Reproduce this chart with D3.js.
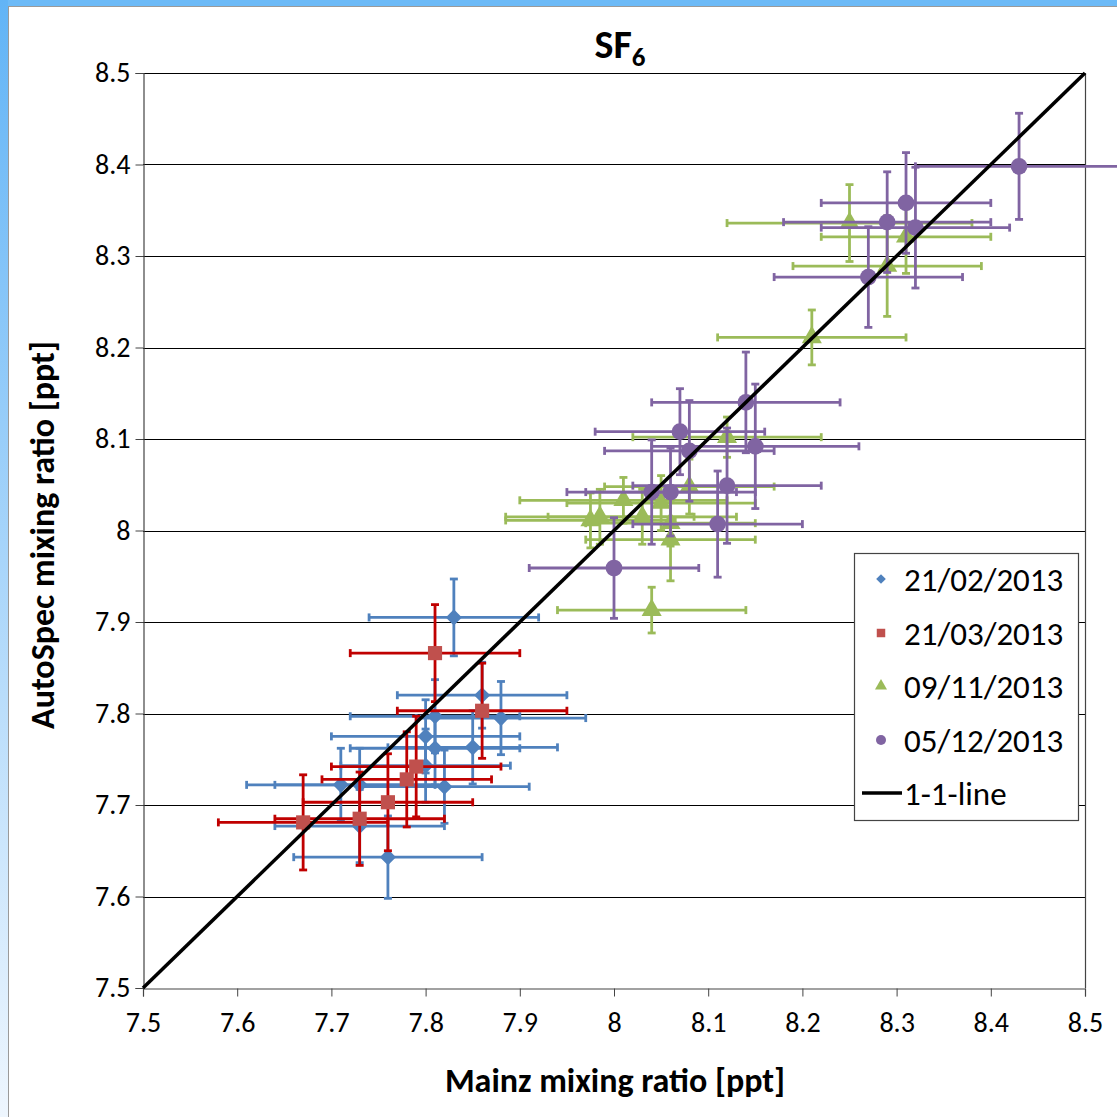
<!DOCTYPE html>
<html>
<head>
<meta charset="utf-8">
<script src="https://cdn.jsdelivr.net/npm/d3@7"></script>
<style>
  body { margin: 0; background: #fff; }
  svg text { font-family: Carlito, Calibri, Lato, "Open Sans", sans-serif; fill: #000; }
</style>
</head>
<body>
<svg id="chart" width="1117" height="1117"></svg>
<script>
// --- data (Mainz vs AutoSpec, ppt) ---
var feb21X    = [7.83, 7.86, 7.88, 7.81, 7.80, 7.81, 7.85, 7.80, 7.71, 7.73, 7.82, 7.73, 7.76];
var feb21Y    = [7.905, 7.82, 7.795, 7.797, 7.775, 7.762, 7.763, 7.743, 7.722, 7.722, 7.72, 7.677, 7.643];
var feb21XErr = [0.09, 0.09, 0.09, 0.09, 0.10, 0.09, 0.09, 0.09, 0.10, 0.09, 0.09, 0.09, 0.10];
var feb21YErr = [0.042, 0.036, 0.04, 0.04, 0.04, 0.04, 0.04, 0.04, 0.04, 0.04, 0.04, 0.04, 0.045];

var mar21X    = [7.81, 7.86, 7.79, 7.78, 7.76, 7.73, 7.67];
var mar21Y    = [7.866, 7.803, 7.742, 7.728, 7.703, 7.685, 7.681];
var mar21XErr = [0.09, 0.09, 0.09, 0.09, 0.09, 0.09, 0.09];
var mar21YErr = [0.053, 0.052, 0.055, 0.052, 0.053, 0.051, 0.052];

var nov09X    = [8.25, 8.31, 8.29, 8.21, 8.12, 8.08, 8.01, 8.05, 7.975, 7.985, 8.03, 8.06, 8.06, 8.04];
var nov09Y    = [8.336, 8.321, 8.289, 8.211, 8.102, 8.048, 8.033, 8.030, 8.011, 8.015, 8.015, 8.008, 7.99, 7.913];
var nov09XErr = [0.13, 0.09, 0.10, 0.10, 0.10, 0.09, 0.11, 0.10, 0.09, 0.10, 0.10, 0.09, 0.09, 0.10];
var nov09YErr = [0.042, 0.04, 0.055, 0.03, 0.022, 0.03, 0.025, 0.03, 0.03, 0.03, 0.03, 0.025, 0.045, 0.025];

var dec05X    = [8.43, 8.31, 8.29, 8.32, 8.27, 8.14, 8.07, 8.08, 8.15, 8.04, 8.06, 8.12, 8.11, 8.00];
var dec05Y    = [8.398, 8.358, 8.337, 8.331, 8.277, 8.140, 8.108, 8.087, 8.092, 8.042, 8.042, 8.049, 8.007, 7.959];
var dec05XErr = [0.11, 0.09, 0.11, 0.10, 0.10, 0.10, 0.09, 0.09, 0.11, 0.09, 0.09, 0.10, 0.09, 0.09];
var dec05YErr = [0.058, 0.055, 0.055, 0.066, 0.055, 0.055, 0.047, 0.055, 0.068, 0.057, 0.048, 0.063, 0.058, 0.055];

var seriesNames = ["21/02/2013", "21/03/2013", "09/11/2013", "05/12/2013"];
var oneToOne = [[7.5, 7.5], [8.5, 8.5]];
var axisTicks = [7.5, 7.6, 7.7, 7.8, 7.9, 8.0, 8.1, 8.2, 8.3, 8.4, 8.5];

function zipSeries(xs, ys, xe, ye) {
  return xs.map(function(v, i) { return {x: v, y: ys[i], xe: xe[i], ye: ye[i]}; });
}

var series = [
  {name: seriesNames[0], pts: zipSeries(feb21X, feb21Y, feb21XErr, feb21YErr), fill: "#4F81BD", bar: "#4F81BD", shape: "diamond"},
  {name: seriesNames[1], pts: zipSeries(mar21X, mar21Y, mar21XErr, mar21YErr), fill: "#C0504D", bar: "#C00000", shape: "square"},
  {name: seriesNames[2], pts: zipSeries(nov09X, nov09Y, nov09XErr, nov09YErr), fill: "#9BBB59", bar: "#9BBB59", shape: "triangle"},
  {name: seriesNames[3], pts: zipSeries(dec05X, dec05Y, dec05XErr, dec05YErr), fill: "#8064A2", bar: "#8064A2", shape: "circle"}
];

var svg = d3.select("#chart");

// window frame remnants (blue bands top/left)
var defs = svg.append("defs");
var grad = defs.append("linearGradient").attr("id", "frameGrad")
  .attr("x1", 0).attr("y1", 0).attr("x2", 0).attr("y2", 1);
grad.append("stop").attr("offset", "0%").attr("stop-color", "#62b4f6");
grad.append("stop").attr("offset", "100%").attr("stop-color", "#eef6fe");
svg.append("rect").attr("x", 0).attr("y", 0).attr("width", 1117).attr("height", 6).attr("fill", "#6cbaf7");
svg.append("rect").attr("x", 0).attr("y", 0).attr("width", 8).attr("height", 1117).attr("fill", "url(#frameGrad)");
svg.append("line").attr("x1", 8).attr("x2", 1117).attr("y1", 6.5).attr("y2", 6.5).attr("stroke", "#9a9a9a");
svg.append("line").attr("x1", 8.5).attr("x2", 8.5).attr("y1", 6).attr("y2", 1117).attr("stroke", "#9a9a9a");

var x = d3.scaleLinear().domain([7.5, 8.5]).range([143, 1085]);
var y = d3.scaleLinear().domain([7.5, 8.5]).range([988, 73]);

var fmt = function(d) { return String(+d.toFixed(1)); };

// gridlines
svg.append("g").selectAll("line").data(axisTicks.slice(1)).join("line")
  .attr("x1", x(7.5)).attr("x2", x(8.5))
  .attr("y1", function(d) { return Math.round(y(d)) + 0.5; })
  .attr("y2", function(d) { return Math.round(y(d)) + 0.5; })
  .attr("stroke", "#000").attr("stroke-width", 1);

// right border
svg.append("line").attr("x1", x(8.5) + 0.5).attr("x2", x(8.5) + 0.5)
  .attr("y1", y(8.5)).attr("y2", y(7.5)).attr("stroke", "#444").attr("stroke-width", 1.2);

var xAxis = svg.append("g").attr("transform", "translate(0," + (y(7.5) + 0.5) + ")")
  .call(d3.axisBottom(x).tickValues(axisTicks).tickSize(8).tickPadding(16).tickFormat(fmt));
var yAxis = svg.append("g").attr("transform", "translate(" + (x(7.5) + 0.5) + ",0)")
  .call(d3.axisLeft(y).tickValues(axisTicks).tickSize(8).tickPadding(5).tickFormat(fmt));
[xAxis, yAxis].forEach(function(a) {
  a.select(".domain").attr("stroke", "#444").attr("stroke-width", 1.2);
  a.selectAll(".tick line").attr("stroke", "#444");
  a.selectAll("text").style("font-size", "28px").attr("fill", "#000");
});

// error bars + markers, series by series
var cap = 4;
var plot = svg.append("g");
series.forEach(function(s) {
  var g = plot.append("g");
  var eb = g.selectAll("g.eb").data(s.pts).join("g").attr("class", "eb")
    .attr("stroke", s.bar).attr("stroke-width", 2.8).attr("fill", "none");
  eb.append("line")
    .attr("x1", function(d) { return x(d.x - d.xe); }).attr("x2", function(d) { return Math.min(x(d.x + d.xe), 1117); })
    .attr("y1", function(d) { return y(d.y); }).attr("y2", function(d) { return y(d.y); });
  eb.append("line")
    .attr("x1", function(d) { return x(d.x - d.xe); }).attr("x2", function(d) { return x(d.x - d.xe); })
    .attr("y1", function(d) { return y(d.y) - cap; }).attr("y2", function(d) { return y(d.y) + cap; });
  eb.filter(function(d) { return x(d.x + d.xe) < 1110; }).append("line")
    .attr("x1", function(d) { return x(d.x + d.xe); }).attr("x2", function(d) { return x(d.x + d.xe); })
    .attr("y1", function(d) { return y(d.y) - cap; }).attr("y2", function(d) { return y(d.y) + cap; });
  eb.append("line")
    .attr("x1", function(d) { return x(d.x); }).attr("x2", function(d) { return x(d.x); })
    .attr("y1", function(d) { return y(d.y + d.ye); }).attr("y2", function(d) { return y(d.y - d.ye); });
  eb.append("line")
    .attr("x1", function(d) { return x(d.x) - cap; }).attr("x2", function(d) { return x(d.x) + cap; })
    .attr("y1", function(d) { return y(d.y + d.ye); }).attr("y2", function(d) { return y(d.y + d.ye); });
  eb.append("line")
    .attr("x1", function(d) { return x(d.x) - cap; }).attr("x2", function(d) { return x(d.x) + cap; })
    .attr("y1", function(d) { return y(d.y - d.ye); }).attr("y2", function(d) { return y(d.y - d.ye); });

  g.selectAll("path.mk").data(s.pts).join("path").attr("class", "mk")
    .attr("d", markerPath(s.shape, 1))
    .attr("transform", function(d) { return "translate(" + x(d.x) + "," + y(d.y) + ")" + (s.shape === "diamond" ? " rotate(45)" : ""); })
    .attr("fill", s.fill);
});

function markerPath(shape, k) {
  if (shape === "diamond") return d3.symbol(d3.symbolSquare, 130 * k * k)();
  if (shape === "square") return d3.symbol(d3.symbolSquare, 200 * k * k)();
  if (shape === "triangle") return d3.symbol(d3.symbolTriangle, 175 * k * k)();
  return d3.symbol(d3.symbolCircle, 220 * k * k)();
}

// 1-1 line
svg.append("path").datum(oneToOne)
  .attr("d", d3.line().x(function(d) { return x(d[0]); }).y(function(d) { return y(d[1]); }))
  .attr("stroke", "#000").attr("stroke-width", 3.5).attr("fill", "none");

// title
var title = svg.append("text").attr("x", 620).attr("y", 58).attr("text-anchor", "middle")
  .style("font-size", "40px").style("font-weight", "bold");
title.append("tspan").text("SF");
title.append("tspan").text("6").attr("dy", 8).style("font-size", "27px");

// axis titles
svg.append("text").attr("x", 615).attr("y", 1092).attr("text-anchor", "middle")
  .style("font-size", "34px").style("font-weight", "bold").text("Mainz mixing ratio [ppt]");
svg.append("text").attr("transform", "translate(54,535) rotate(-90)").attr("text-anchor", "middle")
  .style("font-size", "34px").style("font-weight", "bold").text("AutoSpec mixing ratio [ppt]");

// legend
var lg = svg.append("g");
lg.append("rect").attr("x", 854.5).attr("y", 553.5).attr("width", 224).attr("height", 267)
  .attr("fill", "#fff").attr("stroke", "#444").attr("stroke-width", 1.2);
var rowY = [579, 633, 686, 740, 793];
series.forEach(function(s, i) {
  lg.append("path").attr("d", markerPath(s.shape, 0.6))
    .attr("transform", "translate(881," + rowY[i] + ")" + (s.shape === "diamond" ? " rotate(45)" : ""))
    .attr("fill", s.fill);
  lg.append("text").attr("x", 904).attr("y", rowY[i]).attr("dy", "0.35em")
    .style("font-size", "33px").text(s.name);
});
lg.append("line").attr("x1", 862).attr("x2", 902).attr("y1", rowY[4]).attr("y2", rowY[4])
  .attr("stroke", "#000").attr("stroke-width", 3.5);
lg.append("text").attr("x", 904).attr("y", rowY[4]).attr("dy", "0.35em")
  .style("font-size", "33px").text("1-1-line");
</script>
</body>
</html>
